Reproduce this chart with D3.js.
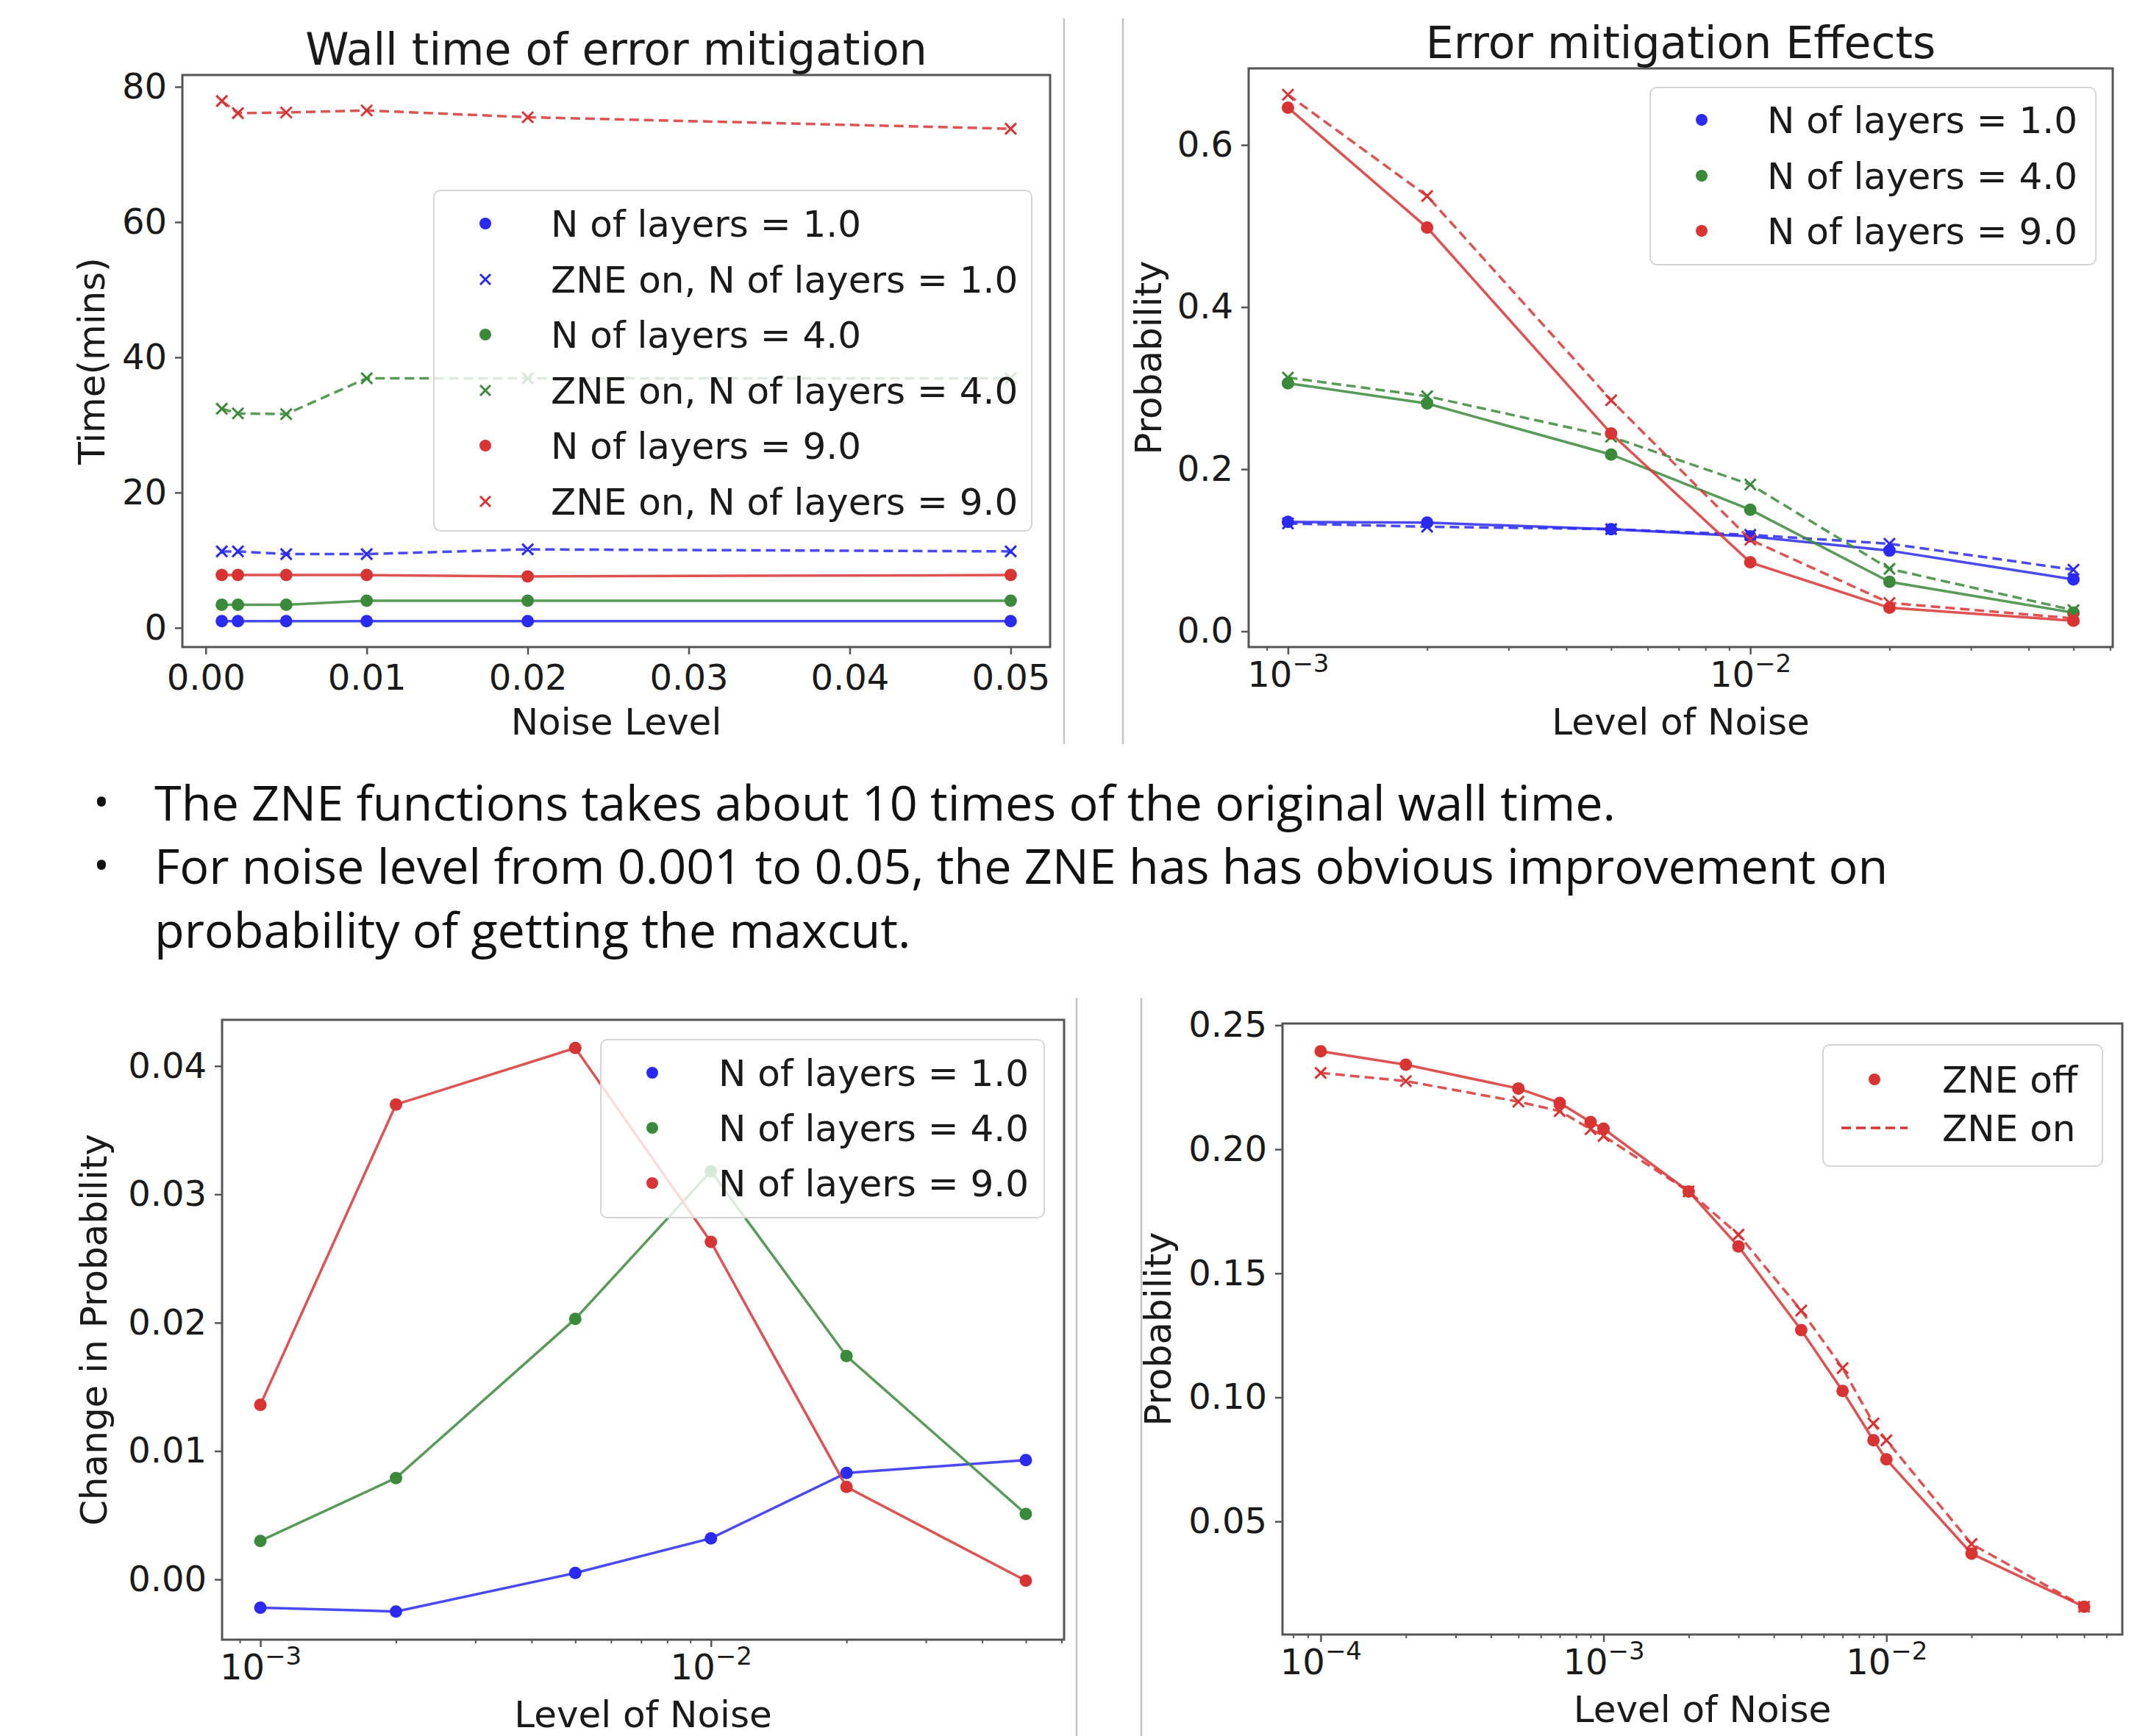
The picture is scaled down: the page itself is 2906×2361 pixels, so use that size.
<!DOCTYPE html>
<html>
<head>
<meta charset="utf-8">
<script src="https://cdn.jsdelivr.net/npm/d3@7"></script>
<style>
  body { margin: 0; background: #fff; }
  text { font-family: "DejaVu Sans", sans-serif; fill: #1a1a1a; }
  .bullets text { font-family: "Open Sans", sans-serif; fill: #111; }
</style>
</head>
<body>
<svg id="fig" width="2906" height="2361"></svg>
<script>
// noise levels
const noiseA = [0.001, 0.002, 0.005, 0.01, 0.02, 0.05]
const noiseB = [1e-4, 2e-4, 5e-4, 7e-4, 9e-4, 1e-3, 2e-3, 3e-3, 5e-3, 7e-3, 9e-3, 1e-2, 2e-2, 5e-2]

// wall time (mins)
const wallL1 = [1.0, 1.0, 1.0, 1.0, 1.0, 1.0]
const wallZneL1 = [11.3, 11.3, 10.9, 10.9, 11.6, 11.3]
const wallL4 = [3.4, 3.4, 3.4, 4.0, 4.0, 4.0]
const wallZneL4 = [32.4, 31.7, 31.6, 36.9, 36.9, 36.9]
const wallL9 = [7.8, 7.8, 7.8, 7.8, 7.6, 7.8]
const wallZneL9 = [77.9, 76.1, 76.2, 76.5, 75.5, 73.8]

// probability of maxcut
const probL1 = [0.135, 0.134, 0.126, 0.117, 0.0995, 0.064]
const probZneL1 = [0.133, 0.129, 0.126, 0.119, 0.108, 0.076]
const probL4 = [0.306, 0.281, 0.218, 0.150, 0.061, 0.023]
const probZneL4 = [0.313, 0.290, 0.240, 0.181, 0.077, 0.026]
const probL9 = [0.646, 0.498, 0.244, 0.085, 0.029, 0.013]
const probZneL9 = [0.662, 0.537, 0.285, 0.113, 0.035, 0.016]

// change in probability
const deltaL1 = [-0.0022, -0.0025, 0.0005, 0.0032, 0.0083, 0.0093]
const deltaL4 = [0.0030, 0.0079, 0.0203, 0.0318, 0.0174, 0.0051]
const deltaL9 = [0.0136, 0.0370, 0.0414, 0.0263, 0.0072, -0.0001]

// single circuit, finer noise grid
const zneOff = [0.2395, 0.2341, 0.2245, 0.2187, 0.2110, 0.2083, 0.1830, 0.1608, 0.1271, 0.1026, 0.0827, 0.0750, 0.0370, 0.0156]
const zneOn = [0.2308, 0.2275, 0.2192, 0.2154, 0.2081, 0.2054, 0.1830, 0.1656, 0.1350, 0.1118, 0.0895, 0.0827, 0.0409, 0.0156]

const layerLabels = ['N of layers = 1.0', 'N of layers = 4.0', 'N of layers = 9.0']
const wallLegend = ['N of layers = 1.0', 'ZNE on, N of layers = 1.0', 'N of layers = 4.0',
    'ZNE on, N of layers = 4.0', 'N of layers = 9.0', 'ZNE on, N of layers = 9.0']
const bulletLines = [
    'The ZNE functions takes about 10 times of the original wall time.',
    'For noise level from 0.001 to 0.05, the ZNE has has obvious improvement on',
    'probability of getting the maxcut.'
]

const BLUE = '#2a2af2', GREEN = '#3b8a3b', RED = '#d93434'

const svg = d3.select('#fig')

// matplotlib style 5% margins
const padLin = (vals) => {
    const [a, b] = d3.extent(vals)
    const m = (b - a) * 0.05
    return [a - m, b + m]
}
const padLog = (vals) => {
    const [a, b] = d3.extent(vals).map(Math.log10)
    const m = (b - a) * 0.05
    return [Math.pow(10, a - m), Math.pow(10, b + m)]
}
const cross = (cx, cy, r) => `M${cx - r},${cy - r}L${cx + r},${cy + r}M${cx - r},${cy + r}L${cx + r},${cy - r}`

const panel = (o) => {
    const g = svg.append('g')
    const x = o.x, y = o.y, box = o.box

    o.series.forEach(s => {
        const pts = s.xs.map((v, i) => [v, s.ys[i]])
        g.append('path').datum(pts)
            .attr('d', d3.line().x(d => x(d[0])).y(d => y(d[1])))
            .attr('fill', 'none').attr('stroke', s.color)
            .attr('stroke-width', 3.5).attr('stroke-opacity', 0.85)
            .attr('stroke-dasharray', s.dash ? '13,7' : null)
        if (s.marker === 'o') {
            g.selectAll(null).data(pts).join('circle')
                .attr('cx', d => x(d[0])).attr('cy', d => y(d[1]))
                .attr('r', 8.5).attr('fill', s.color)
        } else {
            g.append('path')
                .attr('d', pts.map(d => cross(x(d[0]), y(d[1]), 7.5)).join(''))
                .attr('stroke', s.color).attr('stroke-width', 3).attr('fill', 'none')
        }
    })

    // y axis
    const ya = g.append('g').attr('transform', `translate(${box.l},0)`)
        .call(d3.axisLeft(y).tickValues(o.yTicks).tickFormat(o.yFmt).tickSize(10).tickPadding(11))
    // x axis
    const xa = g.append('g').attr('transform', `translate(0,${box.b})`)
        .call(d3.axisBottom(x).tickValues(o.xTicks).tickFormat(o.xFmt || null).tickSize(10))
    xa.selectAll('text').attr('y', o.log ? 54 : 58).attr('dy', null)
    if (o.log) {
        xa.selectAll('text').each(function (d) {
            const t = d3.select(this).text(null)
            t.append('tspan').text('10')
            t.append('tspan').attr('dy', -20).attr('font-size', 34)
                .text('\u2212' + (-Math.round(Math.log10(d))))
        })
        const minors = x.ticks().filter(v => Math.abs(Math.log10(v) - Math.round(Math.log10(v))) > 1e-6)
        g.append('g').attr('transform', `translate(0,${box.b})`)
            .call(d3.axisBottom(x).tickValues(minors).tickSize(5).tickFormat(''))
            .call(a => a.select('.domain').remove())
            .selectAll('line').attr('stroke', '#555').attr('stroke-width', 2)
    }
    ;[ya, xa].forEach(a => {
        a.select('.domain').remove()
        a.selectAll('line').attr('stroke', '#555').attr('stroke-width', 2.5)
        a.selectAll('text').attr('font-size', 48).attr('fill', '#1a1a1a')
    })

    g.append('rect')
        .attr('x', box.l).attr('y', box.t)
        .attr('width', box.r - box.l).attr('height', box.b - box.t)
        .attr('fill', 'none').attr('stroke', '#555').attr('stroke-width', 3)

    const cx = (box.l + box.r) / 2
    if (o.title) {
        g.append('text').attr('x', cx).attr('y', box.t - 14)
            .attr('text-anchor', 'middle').attr('font-size', 60).text(o.title)
    }
    g.append('text').attr('x', cx).attr('y', box.b + 119)
        .attr('text-anchor', 'middle').attr('font-size', 50).text(o.xLabel)
    g.append('text')
        .attr('transform', `translate(${o.yLabelX},${(box.t + box.b) / 2}) rotate(-90)`)
        .attr('text-anchor', 'middle').attr('font-size', 50).text(o.yLabel)

    // legend
    const L = o.legend
    const lg = g.append('g')
    lg.append('rect').attr('x', L.x0).attr('y', L.y0)
        .attr('width', L.x1 - L.x0).attr('height', L.y1 - L.y0).attr('rx', 9)
        .attr('fill', '#fff').attr('fill-opacity', 0.8)
        .attr('stroke', '#d4d4d4').attr('stroke-width', 2)
    L.items.forEach((it, i) => {
        const ry = L.rowY[i]
        if (it.kind === 'o') {
            lg.append('circle').attr('cx', L.markX).attr('cy', ry).attr('r', 8).attr('fill', it.color)
        } else if (it.kind === 'x') {
            lg.append('path').attr('d', cross(L.markX, ry, 7)).attr('stroke', it.color)
                .attr('stroke-width', 3).attr('fill', 'none')
        } else {
            lg.append('line').attr('x1', L.markX - 45).attr('x2', L.markX + 45)
                .attr('y1', ry).attr('y2', ry).attr('stroke', it.color)
                .attr('stroke-width', 3.5).attr('stroke-dasharray', '13,7')
        }
        lg.append('text').attr('x', L.textX).attr('y', ry).attr('dy', '0.35em')
            .attr('font-size', 50).text(it.label)
    })
}

// panel 1: wall time
const box1 = { l: 248, r: 1428, t: 102, b: 880 }
panel({
    box: box1,
    x: d3.scaleLinear().domain(padLin(noiseA)).range([box1.l, box1.r]),
    y: d3.scaleLinear().domain(padLin([...wallL1, ...wallZneL9])).range([box1.b, box1.t]),
    series: [
        { xs: noiseA, ys: wallL1, color: BLUE, marker: 'o' },
        { xs: noiseA, ys: wallZneL1, color: BLUE, marker: 'x', dash: true },
        { xs: noiseA, ys: wallL4, color: GREEN, marker: 'o' },
        { xs: noiseA, ys: wallZneL4, color: GREEN, marker: 'x', dash: true },
        { xs: noiseA, ys: wallL9, color: RED, marker: 'o' },
        { xs: noiseA, ys: wallZneL9, color: RED, marker: 'x', dash: true }
    ],
    yTicks: [0, 20, 40, 60, 80], yFmt: d3.format('d'),
    xTicks: [0, 0.01, 0.02, 0.03, 0.04, 0.05], xFmt: d3.format('.2f'),
    title: 'Wall time of error mitigation', xLabel: 'Noise Level', yLabel: 'Time(mins)', yLabelX: 142,
    legend: {
        x0: 590, x1: 1403, y0: 259, y1: 722, markX: 660, textX: 749,
        rowY: [304, 380, 455, 531, 606, 682],
        items: wallLegend.map((t, i) => ({ label: t, color: [BLUE, BLUE, GREEN, GREEN, RED, RED][i], kind: i % 2 ? 'x' : 'o' }))
    }
})

// panel 2: probability vs noise
const box2 = { l: 1698, r: 2873, t: 93, b: 880 }
panel({
    box: box2, log: true,
    x: d3.scaleLog().domain(padLog(noiseA)).range([box2.l, box2.r]),
    y: d3.scaleLinear().domain(padLin([...probL9, ...probZneL9])).range([box2.b, box2.t]),
    series: [
        { xs: noiseA, ys: probL1, color: BLUE, marker: 'o' },
        { xs: noiseA, ys: probZneL1, color: BLUE, marker: 'x', dash: true },
        { xs: noiseA, ys: probL4, color: GREEN, marker: 'o' },
        { xs: noiseA, ys: probZneL4, color: GREEN, marker: 'x', dash: true },
        { xs: noiseA, ys: probL9, color: RED, marker: 'o' },
        { xs: noiseA, ys: probZneL9, color: RED, marker: 'x', dash: true }
    ],
    yTicks: [0, 0.2, 0.4, 0.6], yFmt: d3.format('.1f'),
    xTicks: [1e-3, 1e-2],
    title: 'Error mitigation Effects', xLabel: 'Level of Noise', yLabel: 'Probability', yLabelX: 1579,
    legend: {
        x0: 2244, x1: 2850, y0: 119, y1: 360, markX: 2314, textX: 2403,
        rowY: [163, 239, 314],
        items: layerLabels.map((t, i) => ({ label: t, color: [BLUE, GREEN, RED][i], kind: 'o' }))
    }
})

// panel 3: change in probability
const box3 = { l: 302, r: 1447, t: 1387, b: 2230 }
panel({
    box: box3, log: true,
    x: d3.scaleLog().domain(padLog(noiseA)).range([box3.l, box3.r]),
    y: d3.scaleLinear().domain(padLin([...deltaL1, ...deltaL4, ...deltaL9])).range([box3.b, box3.t]),
    series: [
        { xs: noiseA, ys: deltaL1, color: BLUE, marker: 'o' },
        { xs: noiseA, ys: deltaL4, color: GREEN, marker: 'o' },
        { xs: noiseA, ys: deltaL9, color: RED, marker: 'o' }
    ],
    yTicks: [0, 0.01, 0.02, 0.03, 0.04], yFmt: d3.format('.2f'),
    xTicks: [1e-3, 1e-2],
    xLabel: 'Level of Noise', yLabel: 'Change in Probability', yLabelX: 145,
    legend: {
        x0: 817, x1: 1420, y0: 1414, y1: 1656, markX: 887, textX: 977,
        rowY: [1459, 1534, 1609],
        items: layerLabels.map((t, i) => ({ label: t, color: [BLUE, GREEN, RED][i], kind: 'o' }))
    }
})

// panel 4: ZNE off / on
const box4 = { l: 1744, r: 2886, t: 1392, b: 2223 }
panel({
    box: box4, log: true,
    x: d3.scaleLog().domain(padLog(noiseB)).range([box4.l, box4.r]),
    y: d3.scaleLinear().domain(padLin([...zneOff, ...zneOn])).range([box4.b, box4.t]),
    series: [
        { xs: noiseB, ys: zneOff, color: RED, marker: 'o' },
        { xs: noiseB, ys: zneOn, color: RED, marker: 'x', dash: true }
    ],
    yTicks: [0.05, 0.10, 0.15, 0.20, 0.25], yFmt: d3.format('.2f'),
    xTicks: [1e-4, 1e-3, 1e-2],
    xLabel: 'Level of Noise', yLabel: 'Probability', yLabelX: 1592,
    legend: {
        x0: 2479, x1: 2859, y0: 1421, y1: 1586, markX: 2549, textX: 2641,
        rowY: [1468, 1534],
        items: [{ label: 'ZNE off', color: RED, kind: 'o' }, { label: 'ZNE on', color: RED, kind: '-' }]
    }
})

// thin separators between the pasted figures
const seps = [[1447, 25, 1012], [1527, 25, 1012], [1464, 1357, 2361], [1552, 1357, 2361]]
svg.append('g').selectAll('line').data(seps).join('line')
    .attr('x1', d => d[0]).attr('x2', d => d[0]).attr('y1', d => d[1]).attr('y2', d => d[2])
    .attr('stroke', '#c4c4c4').attr('stroke-width', 2.5)

// bullet notes
const bl = svg.append('g').attr('class', 'bullets')
const lineY = [1116, 1202, 1289]
bulletLines.forEach((t, i) => {
    if (i < 2) bl.append('text').attr('x', 138).attr('y', lineY[i] - 4).attr('text-anchor', 'middle')
        .attr('font-size', 58).text('\u2022')
    bl.append('text').attr('x', 210).attr('y', lineY[i]).attr('font-size', 66.5).text(t)
})
</script>
</body>
</html>
